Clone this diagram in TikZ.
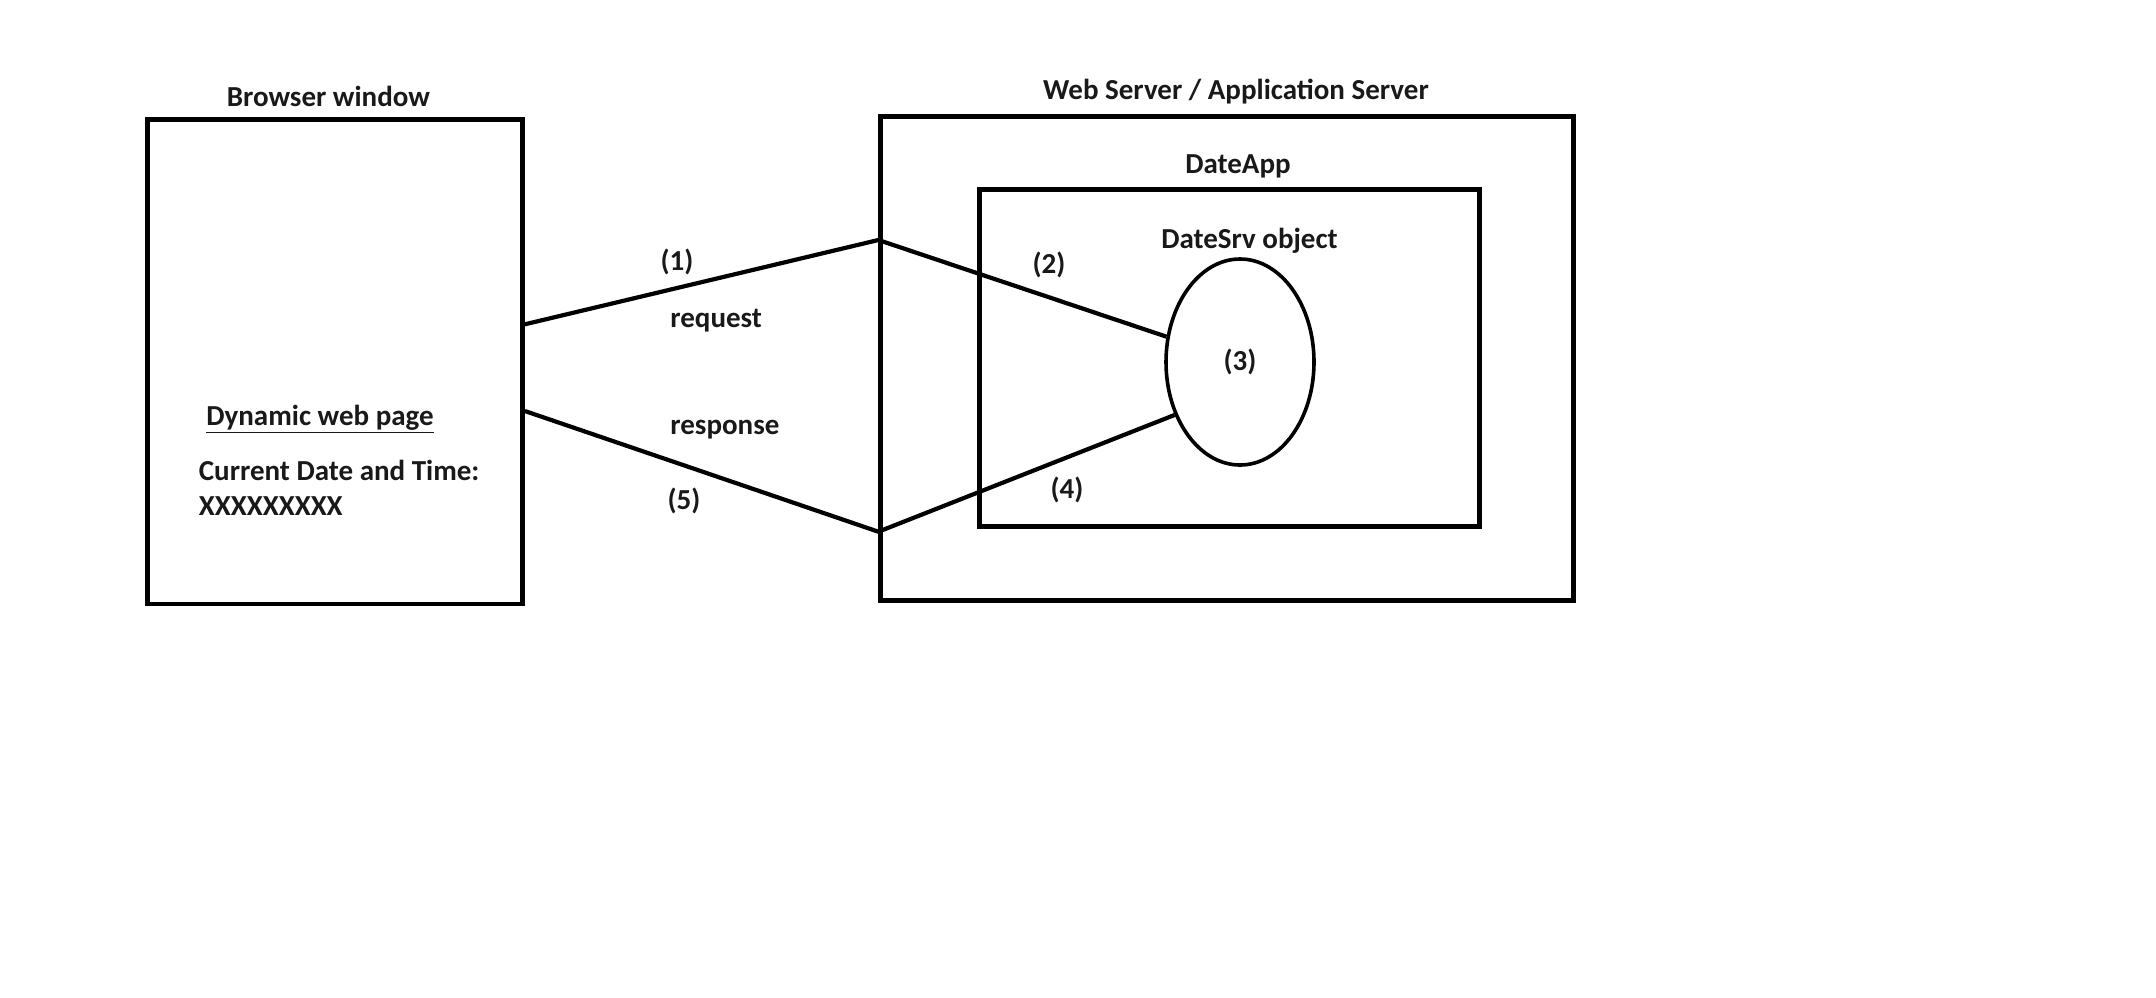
\documentclass[tikz,border=0pt]{standalone}
\usepackage{fontspec}
\setmainfont{Carlito}
\usetikzlibrary{positioning,shapes.geometric}

\begin{document}
\begin{tikzpicture}[x=0.5pt, y=-0.5pt,
				every node/.style={font=\fontsize{14.5}{17}\selectfont\bfseries, text=black!90},
				box/.style={rectangle, draw=black, line width=2.35pt, inner sep=0pt},
				obj/.style={ellipse, draw=black, line width=1.8pt, inner sep=0pt, minimum width=74pt, minimum height=103pt},
				caption/.style={rectangle, inner sep=0pt, text depth=0pt},
				tag/.style={rectangle, inner sep=0pt},
				link/.style={line width=2.1pt, line join=miter}
			]
			\useasboundingbox (0,0) rectangle (2156,997);
			\node[box, minimum width=187.5pt, minimum height=242.4pt] (browser) at (335,361.7) {};
			\node[box, minimum width=346.3pt, minimum height=242pt] (server) at (1227,358.7) {};
			\node[box, minimum width=249.8pt, minimum height=168.5pt] (dateapp) at (1229.5,357.8) {};
			\node[obj] (datesrv) at (1240,362) {(3)};
			\node[caption] (browsertitle) [above=5.2pt of browser, xshift=-3.3pt] {Browser window};
			\node[caption] (servertitle) [above=7.3pt of server, xshift=4.5pt] {Web Server / Application Server};
			\node[caption] (apptitle) [above=6.6pt of dateapp, xshift=4.25pt] {DateApp};
			\node[caption] (objtitle) [above=4pt of datesrv, xshift=4.75pt] {DateSrv object};
			\node[tag, anchor=base west] (pagetitle) at (206,425) {\underline{Dynamic web page}};
			\node[tag, anchor=base west] (datetext) at (198.5,480) {Current Date and Time:};
			\node[tag, anchor=base west] (datevalue) at (198.5,515) {XXXXXXXXX};
			\coordinate (reqout) at ([yshift=18.7pt]browser.east);
			\coordinate (respout) at ([yshift=-24.65pt]browser.east);
			\coordinate (reqin) at ([yshift=59.35pt]server.west);
			\coordinate (respin) at ([yshift=-86.5pt]server.west);
			\draw[link] (reqout) -- (reqin) -- (datesrv.161);
			\draw[link] (datesrv.219) -- (respin) -- (respout);
			\node[tag, anchor=base] (stepone) at (677,270) {(1)};
			\node[tag, anchor=base west] (reqtext) at (670,327.5) {request};
			\node[tag, anchor=base west] (resptext) at (670,434.5) {response};
			\node[tag, anchor=base] (stepfive) at (684,509) {(5)};
			\node[tag, anchor=base] (steptwo) at (1049,273) {(2)};
			\node[tag, anchor=base] (stepfour) at (1067,498) {(4)};
			\end{tikzpicture}
\end{document}
